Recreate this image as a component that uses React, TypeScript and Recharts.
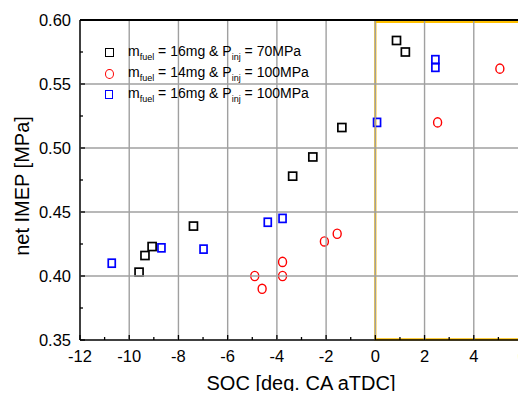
import React from 'react';
import { ScatterChart, Scatter, XAxis, YAxis, ReferenceArea } from 'recharts';

// m_fuel = 16mg & P_inj = 70MPa (black squares)
const soc70 = [0.86, 1.22, -1.36, -2.54, -3.36, -7.39, -9.07, -9.36, -9.6];
const imep70 = [0.584, 0.575, 0.516, 0.493, 0.478, 0.439, 0.423, 0.416, 0.403];

// m_fuel = 14mg & P_inj = 100MPa (red circles)
const soc14 = [5.06, 2.53, -1.55, -2.07, -3.77, -3.77, -4.9, -4.6];
const imep14 = [0.562, 0.52, 0.433, 0.427, 0.411, 0.4, 0.4, 0.39];

// m_fuel = 16mg & P_inj = 100MPa (blue squares)
const soc100 = [-10.71, -8.69, -6.98, -4.37, -3.77, 0.07, 2.44, 2.44];
const imep100 = [0.41, 0.422, 0.421, 0.442, 0.445, 0.52, 0.569, 0.563];

const xTicks = [-12, -11, -10, -9, -8, -7, -6, -5, -4, -3, -2, -1, 0, 1, 2, 3, 4, 5, 6];
const yTicks = [0.35, 0.375, 0.4, 0.425, 0.45, 0.475, 0.5, 0.525, 0.55, 0.575, 0.6];

const toPoints = (xs: number[], ys: number[]) => xs.map((x, i) => ({ x, y: ys[i] }));

const FONT = '"Liberation Sans", Arial, sans-serif';
const PLOT_W = 443;
const PLOT_H = 320;
const GRID = '#a0a0a0';

// x ticks: inward marks, labels on even values, gray grid at inner majors, frame at the right end
const XTick = (props: any) => {
  const { x, y, payload } = props;
  const v = payload.value;
  const major = v % 2 === 0;
  return (
    <g>
      {major && v > -12 && v < 6 && <line x1={x} x2={x} y1={y} y2={y - PLOT_H} stroke={GRID} strokeWidth={1.4} />}
      {v === 6 && <line x1={x} x2={x} y1={y} y2={y - PLOT_H} stroke="#000" strokeWidth={1.8} />}
      <line x1={x} x2={x} y1={y} y2={y - (major ? 5 : 3)} stroke="#000" strokeWidth={1.3} />
      {major && (
        <text x={v === 6 ? x - 1 : x} y={y + 22} textAnchor="middle" fontSize={16.5} fill="#000" fontFamily={FONT}>
          {v}
        </text>
      )}
    </g>
  );
};

const YTick = (props: any) => {
  const { x, y, payload } = props;
  const v = payload.value;
  const k = Math.round(v * 1000);
  const major = k % 50 === 0;
  return (
    <g>
      {major && k > 350 && k < 600 && <line x1={x} x2={x + PLOT_W} y1={y} y2={y} stroke={GRID} strokeWidth={1.4} />}
      {k === 600 && <line x1={x} x2={x + PLOT_W} y1={y} y2={y} stroke="#000" strokeWidth={1.8} />}
      <line x1={x} x2={x + (major ? 5 : 3)} y1={y} y2={y} stroke="#000" strokeWidth={1.3} />
      {major && (
        <text x={x - 9} y={y + 6} textAnchor="end" fontSize={16.5} fill="#000" fontFamily={FONT}>
          {v.toFixed(2)}
        </text>
      )}
    </g>
  );
};

const square = (color: string, w: number, h: number) => (props: any) => {
  const { cx, cy } = props;
  return <rect x={cx - w / 2} y={cy - h / 2} width={w} height={h} fill="none" stroke={color} strokeWidth={1.7} />;
};

const ring = (props: any) => {
  const { cx, cy } = props;
  return <ellipse cx={cx} cy={cy} rx={4} ry={4.6} fill="none" stroke="#ff0000" strokeWidth={1.4} />;
};

const LegendRow = ({ marker, mass, pinj }: { marker: React.ReactNode; mass: string; pinj: string }) => (
  <div style={{ display: 'flex', alignItems: 'center', height: 21 }}>
    <div style={{ width: 20, display: 'flex', justifyContent: 'center' }}>{marker}</div>
    <span style={{ fontSize: 14, marginLeft: 9, whiteSpace: 'nowrap' }}>
      m<sub style={{ fontSize: 9 }}>fuel</sub> = {mass} &amp; P<sub style={{ fontSize: 9 }}>inj</sub> = {pinj}
    </span>
  </div>
);

export default function App() {
  return (
    <div style={{ position: 'relative', width: 526, height: 399, margin: -8, fontFamily: FONT, background: '#fff' }}>
      <ScatterChart width={526} height={399} margin={{ top: 20, right: 3, bottom: 0, left: 0 }}>
        <XAxis
          type="number"
          dataKey="x"
          domain={[-12, 6]}
          ticks={xTicks}
          interval={0}
          tickSize={0}
          tickMargin={0}
          tickLine={false}
          tick={<XTick />}
          height={59}
          axisLine={{ stroke: '#000', strokeWidth: 1.5 }}
          allowDataOverflow
        />
        <YAxis
          type="number"
          dataKey="y"
          domain={[0.35, 0.6]}
          ticks={yTicks}
          interval={0}
          tickSize={0}
          tickMargin={0}
          tickLine={false}
          tick={<YTick />}
          width={80}
          axisLine={{ stroke: '#000', strokeWidth: 1.5 }}
          allowDataOverflow
        />
        <ReferenceArea x1={0} x2={5.94} y1={0.3505} y2={0.5985} fill="none" stroke="#ffc000" strokeWidth={2.2} />
        <Scatter data={toPoints(soc70, imep70)} shape={square('#000000', 8, 8)} isAnimationActive={false} />
        <Scatter data={toPoints(soc14, imep14)} shape={ring} isAnimationActive={false} />
        <Scatter data={toPoints(soc100, imep100)} shape={square('#0000ff', 7, 8)} isAnimationActive={false} />
      </ScatterChart>
      <svg width={526} height={399} style={{ position: 'absolute', left: 0, top: 0, pointerEvents: 'none' }}>
        <text x={301} y={390} textAnchor="middle" fontSize={20} fill="#000" fontFamily={FONT}>
          SOC [deg. CA aTDC]
        </text>
        <text
          x={0}
          y={0}
          transform="translate(28.5,186) rotate(-90)"
          textAnchor="middle"
          fontSize={20}
          fill="#000"
          fontFamily={FONT}
        >
          net IMEP [MPa]
        </text>
      </svg>
      <div style={{ position: 'absolute', left: 99, top: 42, color: '#000' }}>
        <LegendRow
          marker={<div style={{ width: 7, height: 7, border: '1.7px solid #000' }} />}
          mass="16mg"
          pinj="70MPa"
        />
        <LegendRow
          marker={<div style={{ width: 7, height: 8, border: '1.4px solid #ff0000', borderRadius: '50%' }} />}
          mass="14mg"
          pinj="100MPa"
        />
        <LegendRow
          marker={<div style={{ width: 6, height: 7, border: '1.7px solid #0000ff' }} />}
          mass="16mg"
          pinj="100MPa"
        />
      </div>
    </div>
  );
}
